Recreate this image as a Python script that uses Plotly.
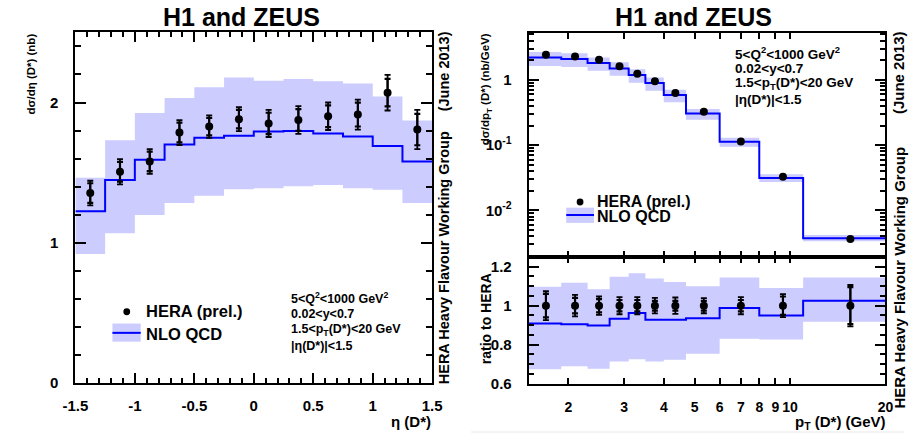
import numpy as np
import plotly.graph_objects as go

W, H = 914, 441
FONT = "Liberation Sans"

# ---------------- data: d sigma / d eta ----------------
eta_edges = [-1.5, -1.25, -1.0, -0.75, -0.5, -0.25, 0.0, 0.25, 0.5, 0.75, 1.0, 1.25, 1.5]
eta_centers = [-1.375, -1.125, -0.875, -0.625, -0.375, -0.125, 0.125, 0.375, 0.625, 0.875, 1.125, 1.375]
hera_eta = [1.354, 1.506, 1.580, 1.786, 1.828, 1.881, 1.851, 1.875, 1.902, 1.914, 2.070, 1.807]
hera_eta_tot = [0.088, 0.090, 0.088, 0.089, 0.080, 0.085, 0.097, 0.099, 0.098, 0.107, 0.127, 0.140]
hera_eta_stat = [0.070, 0.070, 0.070, 0.070, 0.062, 0.066, 0.076, 0.078, 0.077, 0.085, 0.098, 0.112]
nlo_eta = [1.225, 1.447, 1.592, 1.700, 1.748, 1.762, 1.793, 1.797, 1.779, 1.758, 1.690, 1.580]
nlo_eta_up = [1.464, 1.730, 1.926, 2.033, 2.108, 2.178, 2.155, 2.167, 2.152, 2.136, 2.043, 1.871]
nlo_eta_lo = [0.920, 1.067, 1.197, 1.284, 1.335, 1.382, 1.389, 1.403, 1.412, 1.389, 1.377, 1.284]

# ---------------- data: d sigma / d pT ----------------
pt_edges = [1.5, 1.9, 2.3, 2.7, 3.1, 3.5, 4.0, 4.7, 6.0, 8.0, 11.0, 20.0]
pt_centers = [1.7, 2.1, 2.5, 2.9, 3.3, 3.75, 4.35, 5.35, 7.0, 9.5, 15.5]
hera_pt = [2.44, 2.30, 2.05, 1.63, 1.25, 0.956, 0.63, 0.326, 0.114, 0.0329, 0.00365]
nlo_pt = [2.22, 2.10, 1.83, 1.50, 1.19, 0.895, 0.586, 0.305, 0.1126, 0.0313, 0.00374]
nlo_pt_up = [2.677, 2.571, 2.222, 1.871, 1.458, 1.089, 0.706, 0.358, 0.130, 0.0359, 0.00418]
nlo_pt_lo = [1.645, 1.585, 1.386, 1.162, 0.906, 0.682, 0.455, 0.245, 0.0946, 0.0272, 0.00335]

# ---------------- data: ratio to HERA ----------------
ratio_data = [1.0, 1.0, 1.0, 1.0, 1.0, 1.0, 1.0, 1.0, 1.0, 1.0, 1.0]
ratio_tot = [0.074, 0.055, 0.047, 0.044, 0.044, 0.040, 0.042, 0.039, 0.044, 0.059, 0.106]
ratio_stat = [0.060, 0.040, 0.034, 0.029, 0.029, 0.025, 0.025, 0.025, 0.029, 0.047, 0.095]
ratio_nlo = [0.908, 0.904, 0.898, 0.933, 0.963, 0.928, 0.928, 0.935, 0.988, 0.950, 1.025]
ratio_up = [1.097, 1.118, 1.084, 1.148, 1.166, 1.139, 1.121, 1.099, 1.144, 1.091, 1.144]
ratio_lo = [0.674, 0.689, 0.676, 0.713, 0.725, 0.713, 0.723, 0.753, 0.830, 0.827, 0.918]

# tick labels
eta_ticks = [-1.5, -1.0, -0.5, 0.0, 0.5, 1.0, 1.5]
eta_ticktext = ["-1.5", "-1", "-0.5", "0", "0.5", "1", "1.5"]
xs_ticks = [0, 1, 2]
xs_ticktext = ["0", "1", "2"]
pt_ticks = [2, 3, 4, 5, 6, 7, 8, 9, 10, 20]
pt_ticktext = ["2", "3", "4", "5", "6", "7", "8", "9", "10", "20"]
dpt_ticks = [0.01, 0.1, 1]
dpt_ticktext = ["10<sup>-2</sup>", "10<sup>-1</sup>", "1"]
ratio_ticks = [0.6, 0.8, 1.0, 1.2]
ratio_ticktext = ["0.6", "0.8", "1", "1.2"]

BAND = "#ccccff"
BLUE = "#0000ff"


def step(vals):
    return list(vals) + [vals[-1]]


def px(x):
    return x / W


def py(y):
    return 1 - y / H


fig = go.Figure()


def add_panel(edges, centers, data, tot, stat, nlo, up, lo, xa, ya, show_err=True):
    fig.add_trace(go.Scatter(x=edges, y=step(lo), mode="lines",
                             line=dict(shape="hv", width=0, color="rgba(0,0,0,0)"),
                             xaxis=xa, yaxis=ya, showlegend=False, hoverinfo="skip"))
    fig.add_trace(go.Scatter(x=edges, y=step(up), mode="lines", fill="tonexty", fillcolor=BAND,
                             line=dict(shape="hv", width=0, color="rgba(0,0,0,0)"),
                             xaxis=xa, yaxis=ya, showlegend=False, hoverinfo="skip"))
    fig.add_trace(go.Scatter(x=edges, y=step(nlo), mode="lines",
                             line=dict(shape="hv", width=2, color=BLUE),
                             xaxis=xa, yaxis=ya, showlegend=False))
    if show_err:
        fig.add_trace(go.Scatter(x=centers, y=data, mode="markers",
                                 marker=dict(size=1, color="rgba(0,0,0,0)"),
                                 error_y=dict(type="data", array=tot, color="black", thickness=1.8, width=3),
                                 xaxis=xa, yaxis=ya, showlegend=False))
        fig.add_trace(go.Scatter(x=centers, y=data, mode="markers",
                                 marker=dict(size=8, color="black"),
                                 error_y=dict(type="data", array=stat, color="black", thickness=2.2, width=3),
                                 xaxis=xa, yaxis=ya, showlegend=False))
    else:
        fig.add_trace(go.Scatter(x=centers, y=data, mode="markers",
                                 marker=dict(size=8, color="black"),
                                 xaxis=xa, yaxis=ya, showlegend=False))


add_panel(eta_edges, eta_centers, hera_eta, hera_eta_tot, hera_eta_stat,
          nlo_eta, nlo_eta_up, nlo_eta_lo, "x", "y")
add_panel(pt_edges, pt_centers, hera_pt, None, None,
          nlo_pt, nlo_pt_up, nlo_pt_lo, "x2", "y2", show_err=False)
add_panel(pt_edges, pt_centers, ratio_data, ratio_tot, ratio_stat,
          ratio_nlo, ratio_up, ratio_lo, "x3", "y3")

tickfont = dict(family=FONT, size=15, color="black", weight="bold")
common = dict(showline=True, linecolor="black", linewidth=2, mirror="ticks", ticks="inside",
              tickcolor="black", tickwidth=1.5, showgrid=False, zeroline=False,
              tickfont=tickfont, tickangle=0)

lx = [px(64), px(430)]
rx = [px(529), px(895)]

minor_eta = [v for v in np.round(np.arange(-1.4, 1.45, 0.1), 2) if abs(v * 2 - round(v * 2)) > 1e-6]
minor_xs = [v for v in np.round(np.arange(0.2, 2.5, 0.2), 2) if abs(v - round(v)) > 1e-6]
minor_dpt = [m * 10.0 ** e for e in (-3, -2, -1) for m in range(2, 10)] + [2, 3, 4, 5]
minor_ratio = [v for v in np.round(np.arange(0.65, 1.25, 0.05), 2) if abs(v * 5 - round(v * 5)) > 1e-6]

fig.update_layout(
    width=W, height=H, margin=dict(l=0, r=0, t=0, b=0),
    paper_bgcolor="white", plot_bgcolor="white", showlegend=False,
    xaxis=dict(common, domain=lx, anchor="y", range=[-1.5, 1.5],
               tickvals=eta_ticks, ticktext=eta_ticktext, ticklen=10, ticklabelstandoff=8,
               minor=dict(tickvals=minor_eta, ticklen=5, ticks="inside", tickcolor="black", tickwidth=1.5)),
    yaxis=dict(common, domain=[py(390), py(33)], anchor="x", range=[0, 2.5],
               tickvals=xs_ticks, ticktext=xs_ticktext, ticklen=11, ticklabelstandoff=12,
               minor=dict(tickvals=minor_xs, ticklen=6, ticks="inside", tickcolor="black", tickwidth=1.5)),
    xaxis2=dict(common, domain=rx, anchor="y2", type="log", range=[np.log10(1.5), np.log10(20)],
                tickvals=pt_ticks, ticktext=pt_ticktext, ticklen=6, showticklabels=False, matches="x3"),
    yaxis2=dict(common, domain=[py(261.7), py(34)], anchor="x2", type="log", range=[-2.715, 0.715],
                tickvals=dpt_ticks, ticktext=dpt_ticktext, ticklen=10, ticklabelstandoff=12,
                minor=dict(tickvals=minor_dpt, ticklen=5, ticks="inside", tickcolor="black", tickwidth=1.5)),
    xaxis3=dict(common, domain=rx, anchor="y3", type="log", range=[np.log10(1.5), np.log10(20)],
                tickvals=pt_ticks, ticktext=pt_ticktext, ticklen=6, ticklabelstandoff=10,
                tickfont=dict(tickfont, size=14)),
    yaxis3=dict(common, domain=[py(390.7), py(261.7)], anchor="x3", range=[0.6, 1.25],
                tickvals=ratio_ticks, ticktext=ratio_ticktext, ticklen=10, ticklabelstandoff=12,
                minor=dict(tickvals=minor_ratio, ticklen=5, ticks="inside", tickcolor="black", tickwidth=1.5)),
)

annotations = []


def ann(text, x, y, size, xanchor="center", yanchor="middle", angle=0):
    annotations.append(dict(text=text, x=px(x), y=py(y), xref="paper", yref="paper",
                            xanchor=xanchor, yanchor=yanchor, textangle=angle, showarrow=False,
                            borderpad=0,
                            font=dict(family=FONT, size=size, color="black", weight="bold")))


# titles
ann("H1 and ZEUS", 234, 17, 25)
ann("H1 and ZEUS", 698, 17, 25)
# axis titles
ann("dσ/dη (D*) (nb)", 18, 33, 11.5, yanchor="top", angle=-90)
ann("η (D*)", 430, 429, 15, xanchor="right")
ann("dσ/dp<sub>T</sub> (D*) (nb/GeV)", 486, 33, 11.5, yanchor="top", angle=-90)
ann("ratio to HERA", 486, 277, 14, yanchor="top", angle=-90)
ann("p<sub>T</sub> (D*) (GeV)", 897, 430, 15, xanchor="right")
# watermarks
ann("HERA Heavy Flavour Working Group", 443, 392, 14.5, yanchor="bottom", angle=-90)
ann("(June 2013)", 443, 31, 14.5, yanchor="top", angle=-90)
ann("HERA Heavy Flavour Working Group", 909, 417, 15, yanchor="bottom", angle=-90)
ann("(June 2013)", 909, 31, 15, yanchor="top", angle=-90)
# cuts text
cuts = ["5<Q<sup>2</sup><1000 GeV<sup>2</sup>", "0.02<y<0.7",
        "1.5<p<sub>T</sub>(D*)<20 GeV", "|η(D*)|<1.5"]
for t, yy in zip(cuts, [304, 320, 336, 352]):
    ann(t, 284, yy, 12.5, xanchor="left")
for t, yy in zip(cuts, [54, 69.5, 85.5, 101]):
    ann(t, 740, yy, 13.5, xanchor="left")
# legends text
ann("HERA (prel.)", 135, 317, 16.5, xanchor="left")
ann("NLO QCD", 135, 340, 16.5, xanchor="left")
ann("HERA (prel.)", 598, 205, 16, xanchor="left")
ann("NLO QCD", 598, 221, 16, xanchor="left")

shapes = []


def legend_sym(cx, cy, bx0, bx1, by0, by1, ly):
    shapes.append(dict(type="circle", xref="paper", yref="paper",
                       x0=px(cx - 3.5), x1=px(cx + 3.5), y0=py(cy + 3.5), y1=py(cy - 3.5),
                       fillcolor="black", line=dict(width=0)))
    shapes.append(dict(type="rect", xref="paper", yref="paper",
                       x0=px(bx0), x1=px(bx1), y0=py(by1), y1=py(by0),
                       fillcolor=BAND, line=dict(width=0)))
    shapes.append(dict(type="line", xref="paper", yref="paper",
                       x0=px(bx0), x1=px(bx1), y0=py(ly), y1=py(ly),
                       line=dict(color=BLUE, width=2)))


legend_sym(116.7, 317.5, 102, 131, 329.5, 348, 339)
legend_sym(581.7, 205.7, 567.5, 596, 211.5, 227, 219)
shapes.append(dict(type="line", xref="paper", yref="paper", x0=px(470), x1=1, y0=py(440), y1=py(440),
                   line=dict(color="#e8e8e8", width=1)))

fig.update_layout(annotations=annotations, shapes=shapes)
fig.write_html("out.html")
